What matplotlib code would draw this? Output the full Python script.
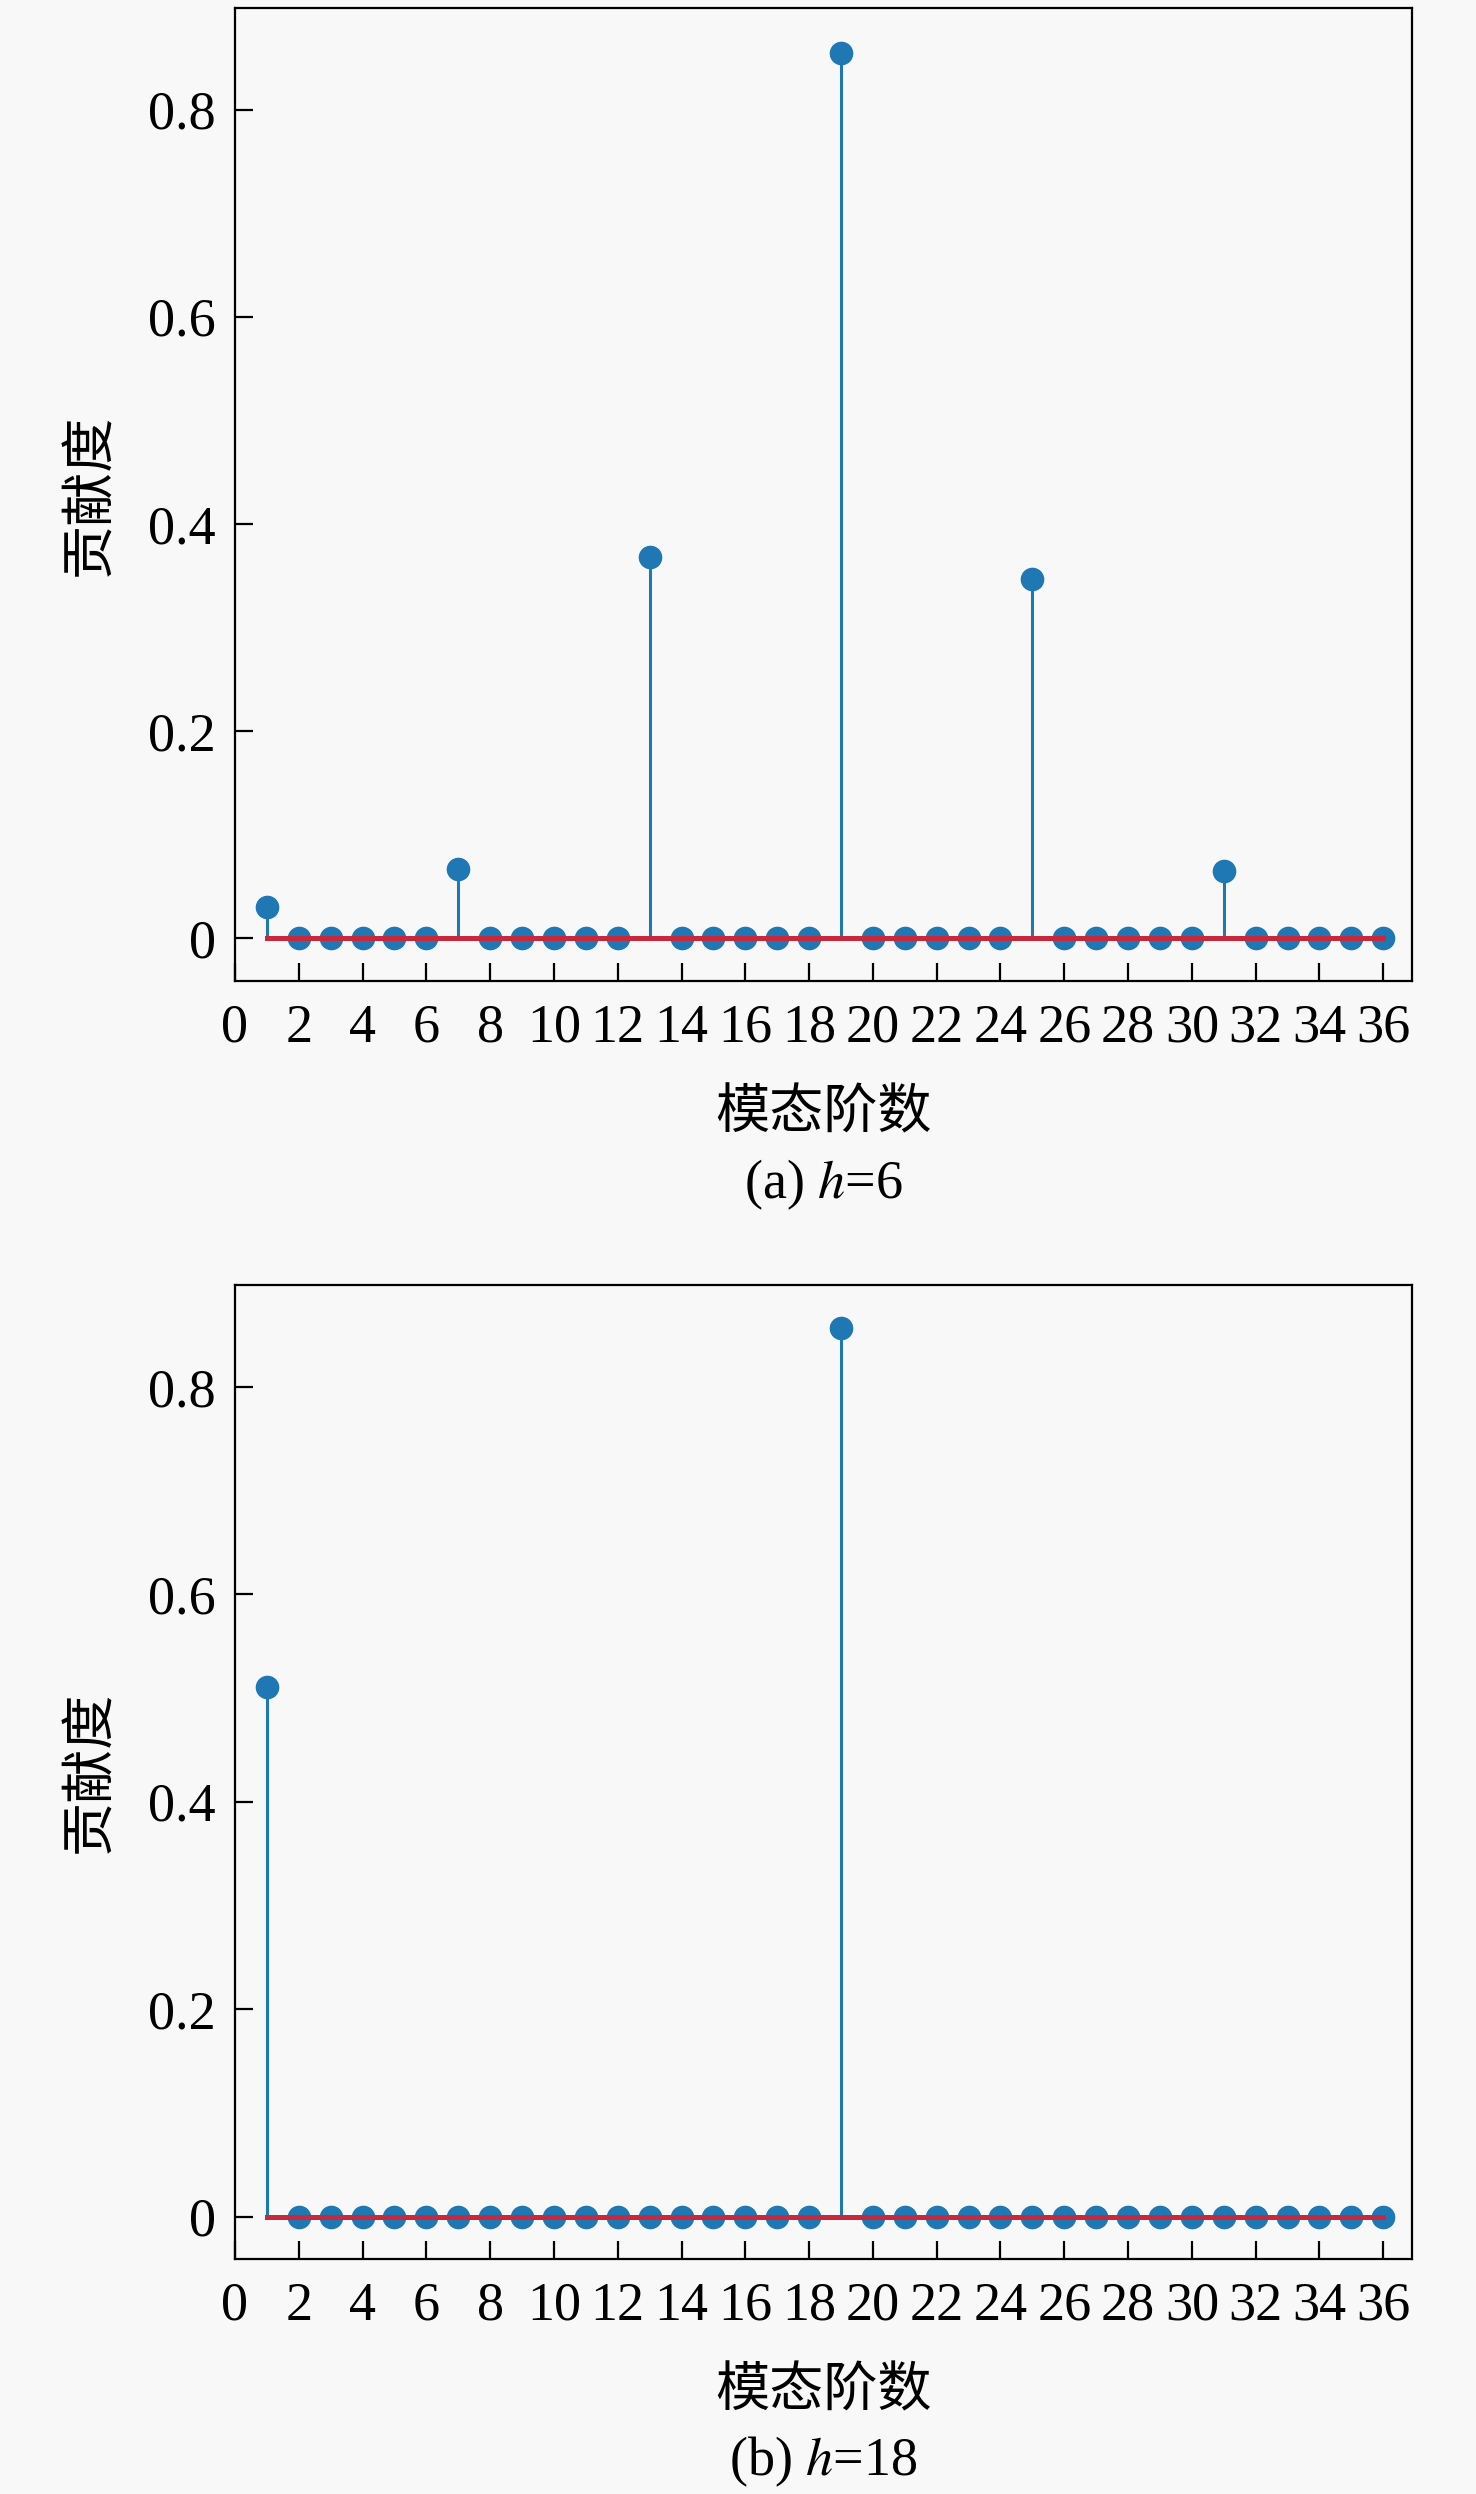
import matplotlib.pyplot as plt
import numpy as np

plt.rcParams["font.family"] = ["Liberation Serif", "Noto Sans CJK SC"]
plt.rcParams["mathtext.fontset"] = "stix"

modes = list(range(1, 37))

# contribution of each mode, h=6
contrib_h6 = [0.030, 0, 0, 0, 0, 0, 0.067, 0, 0, 0, 0, 0,
              0.368, 0, 0, 0, 0, 0, 0.855, 0, 0, 0, 0, 0,
              0.347, 0, 0, 0, 0, 0, 0.065, 0, 0, 0, 0, 0]

# contribution of each mode, h=18
contrib_h18 = [0.511, 0, 0, 0, 0, 0, 0, 0, 0, 0, 0, 0,
               0, 0, 0, 0, 0, 0, 0.857, 0, 0, 0, 0, 0,
               0, 0, 0, 0, 0, 0, 0, 0, 0, 0, 0, 0]

xticks = list(range(0, 37, 2))
yticks = [0, 0.2, 0.4, 0.6, 0.8]
ytick_labels = ["0", "0.2", "0.4", "0.6", "0.8"]

panels = [
    (contrib_h6, "(a) $h$=6", [0.1592, 0.6067, 0.7974, 0.3901], 0.5249),
    (contrib_h18, "(b) $h$=18", [0.1592, 0.0942, 0.7974, 0.3905], 0.0128),
]

fig = plt.figure(figsize=(14.76, 24.94), dpi=100, facecolor="#f8f8f8")

for values, caption, rect, cap_y in panels:
    ax = fig.add_axes(rect, facecolor="#f8f8f8")
    markerline, stemlines, baseline = ax.stem(modes, values)
    markerline.set_color("#1f77b4")
    markerline.set_markersize(16)
    stemlines.set_color("#1f77b4")
    stemlines.set_linewidth(2.2)
    # baseline sits on top of the zero-valued markers
    baseline.set_color("#c8283c")
    baseline.set_linewidth(3.6)
    baseline.set_zorder(4)

    ax.set_xlim(0, 36.9)
    ax.set_ylim(-0.041, 0.898)
    ax.set_xticks(xticks)
    ax.set_yticks(yticks)
    ax.set_yticklabels(ytick_labels)
    ax.tick_params(direction="in", length=13, width=1.6, labelsize=39,
                   top=False, right=False)
    ax.tick_params(axis="x", pad=16)
    ax.tick_params(axis="y", pad=14)
    for spine in ax.spines.values():
        spine.set_linewidth(1.6)

    ax.set_xlabel("模态阶数", fontsize=39, labelpad=26)
    ax.set_ylabel("贡献度", fontsize=39, labelpad=22)

    cx = rect[0] + rect[2] / 2
    fig.text(cx, cap_y, caption, fontsize=39, ha="center", va="center")

fig.savefig("out.png", dpi=100, facecolor=fig.get_facecolor())
